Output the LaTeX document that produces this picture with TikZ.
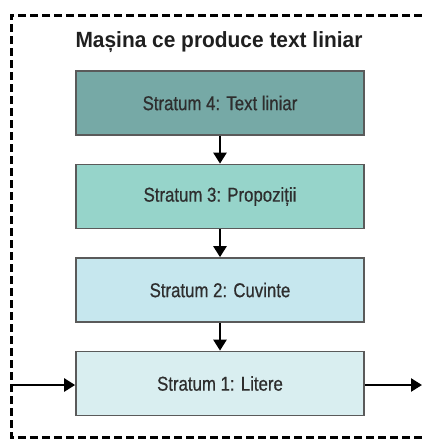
\documentclass[tikz,border=0pt]{standalone}
\usepackage{fontspec}
\setmainfont{Liberation Sans}
\newfontfamily\condbold[FakeStretch=0.95]{Liberation Sans Bold}
\newfontfamily\condreg[FakeStretch=0.84,FakeBold=0.6]{Liberation Sans}
\usetikzlibrary{arrows.meta}
\definecolor{s4}{HTML}{76A9A6}
\definecolor{s3}{HTML}{96D4CA}
\definecolor{s2}{HTML}{C6E7EE}
\definecolor{s1}{HTML}{D9EEF0}
\definecolor{edge}{HTML}{5A5A5A}
\definecolor{ink}{HTML}{2E2E2E}
\tikzset{
  stratum/.style={draw=edge, line width=1.7pt, minimum width=288pt, minimum height=64pt,
    inner sep=0pt, font=\condreg\fontsize{20}{24}\selectfont, text=ink},
  flow/.style={line width=2.5pt, -{Triangle[width=13pt,length=11pt]}},
  frame/.style={line width=3pt, dash pattern=on 8pt off 4pt}
}
\begin{document}
\begin{tikzpicture}[x=1pt,y=-1pt]
  \useasboundingbox (0,0) rectangle (422,439);
  % dashed enclosure, open to the right
  \draw[frame] (422,15) -- (11,15) -- (11,437) -- (422,437);
  \node[font=\condbold\fontsize{22}{26}\selectfont, text=black!88] (title) at (219,42) {Mașina ce produce text liniar};
  \node[stratum, fill=s4] (st4) at (220,103) {Stratum 4: Text liniar};
  \node[stratum, fill=s3] (st3) at (220,196.5) {Stratum 3: Propoziții};
  \node[stratum, fill=s2] (st2) at (220,290) {Stratum 2: Cuvinte};
  \node[stratum, fill=s1] (st1) at (220,383.5) {Stratum 1: Litere};
  \draw[flow] (st4) -- (st3);
  \draw[flow] (st3) -- (st2);
  \draw[flow] (st2) -- (st1);
  \coordinate (in) at (11,385);
  \coordinate (out) at (422,385);
  \draw[flow] (in) -- (st1.west |- in);
  \draw[flow] (st1.east |- out) -- (out);
\end{tikzpicture}
\end{document}
